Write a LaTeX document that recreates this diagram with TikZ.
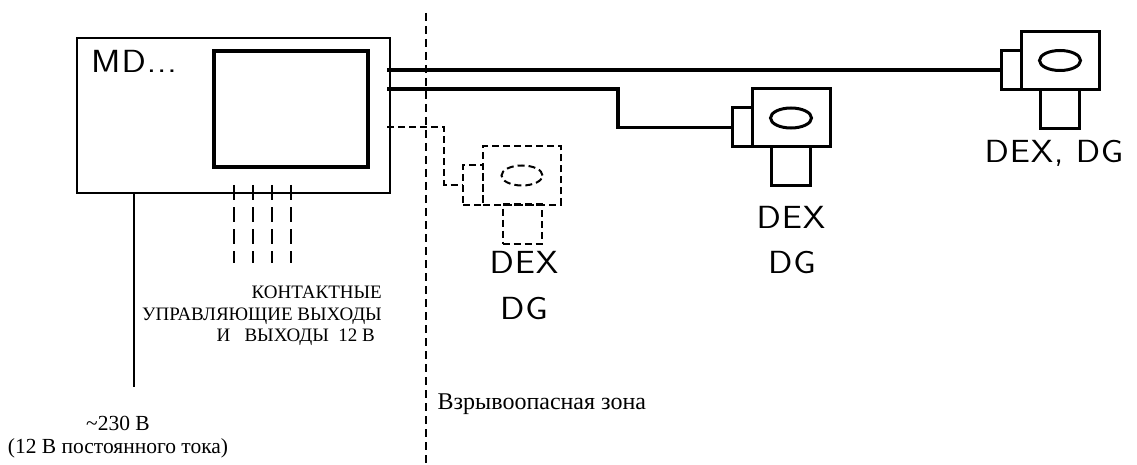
\documentclass[tikz,border=0pt]{standalone}
\usepackage{fontspec}
\setmainfont{Liberation Serif}
\newfontfamily\bigfont[FakeStretch=1.12,LetterSpace=3]{Latin Modern Sans}
\usetikzlibrary{shapes.geometric, positioning}
\tikzset{
  box/.style    = {rectangle, draw=black, outer sep=0pt, inner sep=0pt},
  mdbox/.style  = {box, line width=2pt, minimum width=313pt, minimum height=155pt},
  scrn/.style   = {box, line width=4pt, minimum width=154pt, minimum height=116pt},
  cam/.style    = {box, minimum width=78pt, minimum height=58pt},
  plug/.style   = {box, minimum width=20pt, minimum height=39pt},
  foot/.style   = {box, minimum width=39pt, minimum height=39pt},
  lens/.style   = {ellipse, draw=black, outer sep=0pt, inner sep=0pt,
                   minimum width=41pt, minimum height=20pt},
  solidpart/.style = {line width=3pt},
  ghost/.style  = {line width=2pt, dash pattern=on 7pt off 4pt},
  cable/.style  = {draw=black, line width=3.2pt},
  wire/.style   = {draw=black, line width=2pt, dash pattern=on 15pt off 7pt},
  zone/.style   = {draw=black, line width=2pt, dash pattern=on 8pt off 5pt},
  big/.style    = {font=\fontsize{32}{32}\bigfont, inner sep=0pt, anchor=base},
  small/.style  = {font=\fontsize{19}{21.5}\selectfont, inner sep=0pt, align=center},
}
\begin{document}
\begin{tikzpicture}[x=1pt, y=-1pt]
  \useasboundingbox (0,0) rectangle (1137,465);

  \node[mdbox] (md) at (233.5,115.5) {};
  \node[scrn]  (screen) at (291,109) {};
  \node[big, anchor=base west] (mdname) at (91,73) {MD...};

  % right device
  \node[cam, solidpart] (camA) at (1060,60.5) {};
  \node[plug, solidpart, anchor=south east] (plugA) at (camA.south west) {};
  \node[foot, solidpart, below=0pt of camA] (footA) {};
  \node[lens, solidpart] (lensA) at (camA) {};
  \node[big] (nameA) at (1054,163) {DEX, DG};

  % middle device
  \node[cam, solidpart] (camB) at (791,118) {};
  \node[plug, solidpart, anchor=south east] (plugB) at (camB.south west) {};
  \node[foot, solidpart, below=0pt of camB] (footB) {};
  \node[lens, solidpart] (lensB) at (camB) {};
  \node[big] (dexB) at (791,228) {DEX};
  \node[big] (dgB)  at (792,273) {DG};

  % dashed device
  \node[cam, ghost] (camC) at (522,175.5) {};
  \node[plug, ghost, anchor=south east] (plugC) at (camC.south west) {};
  \node[foot, ghost, below=0pt of camC] (footC) {};
  \node[lens, ghost] (lensC) at (camC) {};
  \node[big] (dexC) at (524,273) {DEX};
  \node[big] (dgC)  at (524,319) {DG};

  \coordinate (tapC) at (444,127.5);
  \coordinate (mains) at (134,387);
  \coordinate (zonetop) at (425.5,13);
  \coordinate (zonebot) at (425.5,465);

  \draw[zone] (zonetop) -- (zonebot);
  \draw[cable] ([xshift=-3pt]md.east |- plugA.west) -- (plugA.west);
  \draw[cable] ([xshift=-3pt]md.east |- camB.north) -- ++(231,0) |- (plugB.west);
  \draw[draw=black, ghost] ([xshift=-3pt]md.east |- tapC) -- (tapC) |- (plugC.west);
  \draw[draw=black, line width=2pt] (md.south -| mains) -- (mains);

  \foreach \k/\x in {1/233.5,2/252.5,3/272,4/291}{
    \coordinate (outtop\k) at (\x,185);
    \coordinate (outend\k) at (\x,263);
    \draw[wire] (outtop\k) -- (outend\k);
  }

  \node[small, align=right, anchor=east] (outs) at (382,316)
    {КОНТАКТНЫЕ\\УПРАВЛЯЮЩИЕ ВЫХОДЫ\\И\ \ \ ВЫХОДЫ\ \ 12 В\rule{7pt}{0pt}};
  \node[small, font=\fontsize{21.5}{23}\selectfont] (power) at (118,437) {\textasciitilde230 В\\(12 В постоянного тока)};
  \node[small, font=\fontsize{24}{24}\selectfont, anchor=base west] (hazard) at (437.5,409) {Взрывоопасная зона};
\end{tikzpicture}
\end{document}
